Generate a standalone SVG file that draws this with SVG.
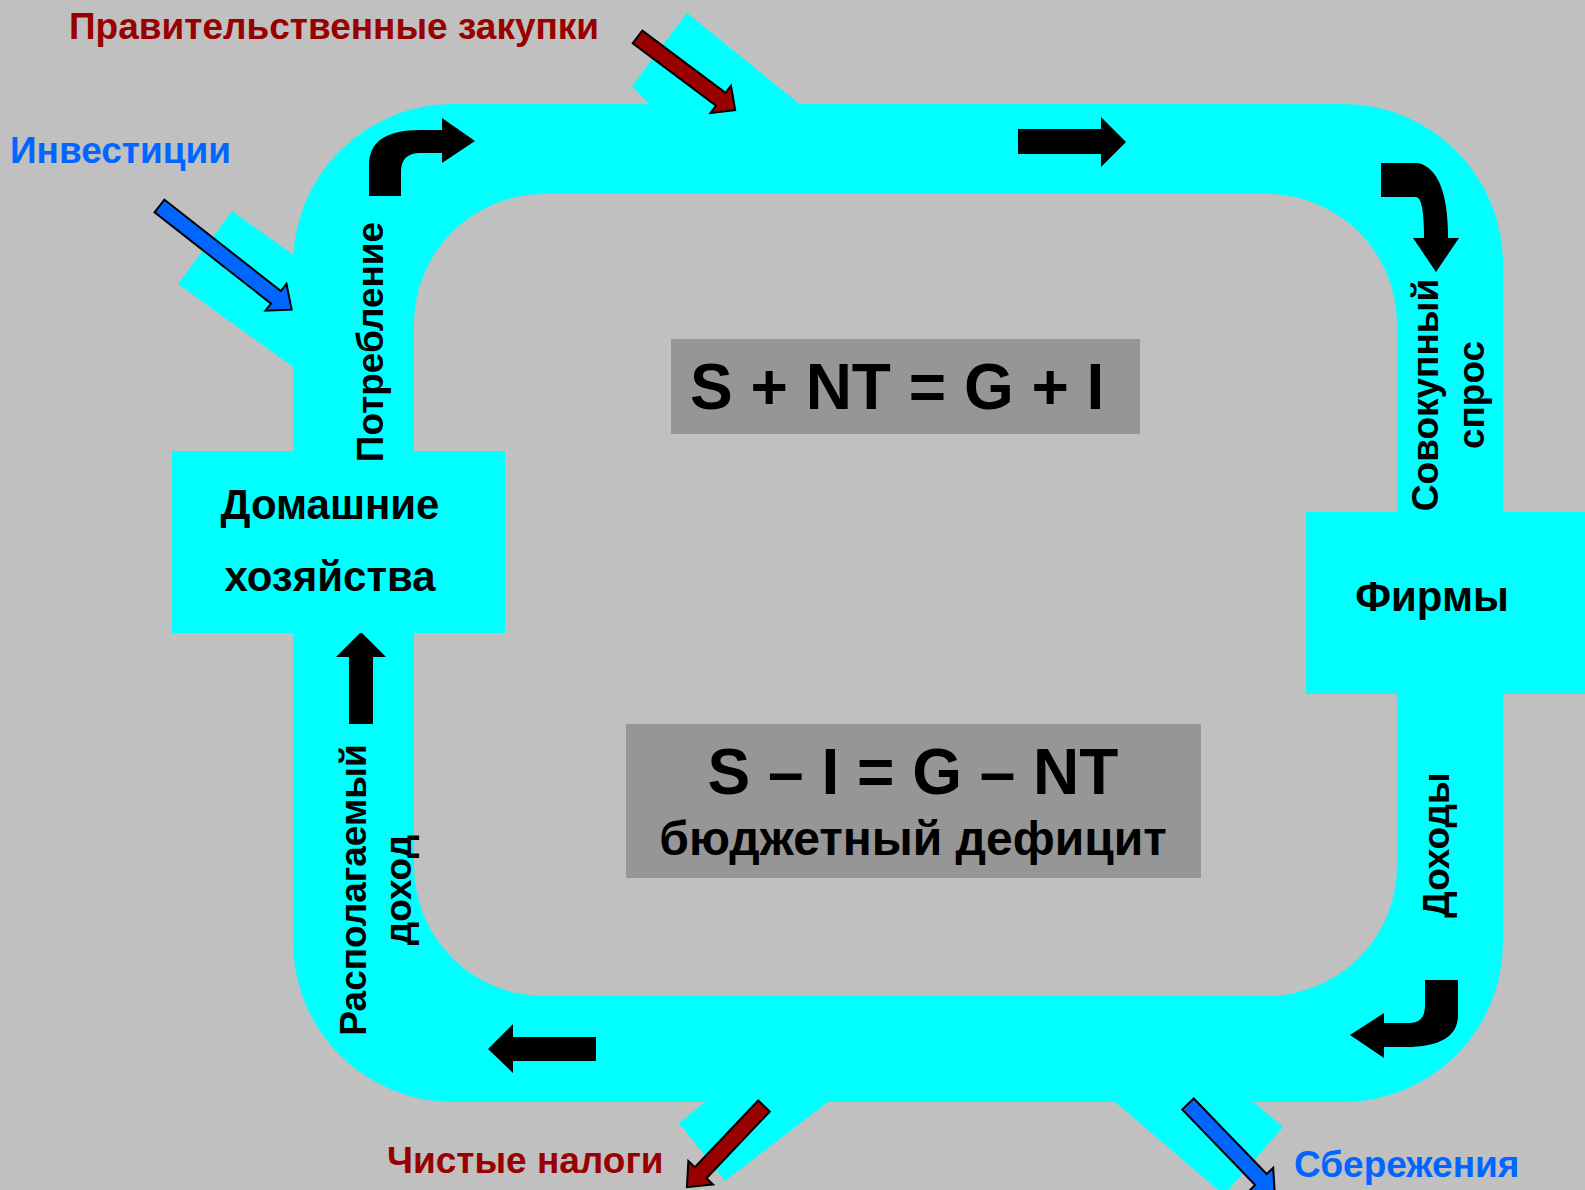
<svg xmlns="http://www.w3.org/2000/svg" width="1585" height="1190" viewBox="0 0 1585 1190">
<style>
text{font-family:"Liberation Sans",Arial,sans-serif;font-weight:bold;}
.lbl{font-size:37px;fill:#000;}
.big{font-size:42px;fill:#000;}
.red{font-size:37px;fill:#990000;}
.blue{font-size:37px;fill:#0066FF;}
.cy{fill:#00FFFF;}
.blk{fill:#000;}
.box{fill:#969696;}
.fa{stroke:#000;stroke-width:2;stroke-linejoin:miter;}
</style>
<rect x="0" y="0" width="1585" height="1190" fill="#C0C0C0"/>
<g id="connectors">
  <path class="cy" fill-rule="evenodd" d="M453,104 H1343 A160,160 0 0 1 1503,264 V942 A160,160 0 0 1 1343,1102 H453 A160,160 0 0 1 293,942 V264 A160,160 0 0 1 453,104 Z M544,194 H1267 A130,130 0 0 1 1397,324 V866 A130,130 0 0 1 1267,996 H544 A130,130 0 0 1 414,866 V324 A130,130 0 0 1 544,194 Z"/>
  <polygon class="cy" points="655,110 632,86 687,13 807,110"/>
  <polygon class="cy" points="232,211 320,274 320,367 293,367 178,284"/>
  <polygon class="cy" points="714,1095 679,1123 725,1181 837,1095"/>
  <polygon class="cy" points="1107,1095 1245,1095 1283,1127 1224,1195"/>
  <path class="blk" d="M369,196 L369,165 Q369,130 420,130 L442,130 L442,118 L475,141 L442,163 L442,153 L420,153 Q401,153 401,172 L401,196 Z"/>
  <polygon class="blk" points="1018,129 1101,129 1101,117 1126,142 1101,167 1101,154 1018,154"/>
  <path class="blk" d="M1381,163 L1418,163 Q1448,170 1448,238 L1459,238 L1436,272 L1413,238 L1424,238 Q1424,197 1416,197 L1381,197 Z"/>
  <path class="blk" d="M1425,980 L1458,980 L1458,1015 Q1458,1047 1405,1047 L1384,1047 L1384,1058 L1350,1035 L1384,1013 L1384,1023 L1410,1023 Q1425,1023 1425,1005 Z"/>
  <polygon class="blk" points="596,1037 513,1037 513,1024 488,1049 513,1073 513,1061 596,1061"/>
  <polygon class="blk" points="349,724 349,657 336,657 361,632 386,657 373,657 373,724"/>
  <g transform="translate(637.5,37) rotate(36.8)"><polygon class="fa" fill="#990000" points="0,-8 104,-8 104,-17 122,0 104,17 104,8 0,8"/></g>
  <g transform="translate(159.5,206) rotate(38.1)"><polygon class="fa" fill="#0066FF" points="0,-8 148,-8 148,-17 168,0 148,17 148,8 0,8"/></g>
  <g transform="translate(764,1106) rotate(133.5)"><polygon class="fa" fill="#990000" points="0,-8 92,-8 92,-17 112,0 92,17 92,8 0,8"/></g>
  <g transform="translate(1188,1104) rotate(46)"><polygon class="fa" fill="#0066FF" points="0,-8 105,-8 105,-17 125,0 105,17 105,8 0,8"/></g>
</g>
<g id="households">
  <rect class="cy" x="172" y="451" width="333" height="182"/>
  <text class="big" x="330" y="519" text-anchor="middle">Домашние</text>
  <text class="big" x="330" y="591" text-anchor="middle">хозяйства</text>
</g>
<g id="firms">
  <rect class="cy" x="1306" y="512" width="279" height="182"/>
  <text class="big" x="1432" y="611" text-anchor="middle">Фирмы</text>
</g>
<g id="formula1">
  <rect class="box" x="671" y="339" width="469" height="95"/>
  <text x="690" y="409" font-size="64">S + NT = G + I</text>
</g>
<g id="formula2">
  <rect class="box" x="626" y="724" width="575" height="154"/>
  <text x="913" y="794" font-size="64" text-anchor="middle">S – I = G – NT</text>
  <text x="913" y="855" font-size="48" text-anchor="middle">бюджетный дефицит</text>
</g>
<g id="labels">
  <text class="red" x="69" y="39">Правительственные закупки</text>
  <text class="blue" x="10" y="163">Инвестиции</text>
  <text class="red" x="387" y="1173">Чистые налоги</text>
  <text class="blue" x="1294" y="1177">Сбережения</text>
  <text class="lbl" transform="translate(383,342) rotate(-90)" text-anchor="middle">Потребление</text>
  <text class="lbl" transform="translate(1438,395) rotate(-90)" text-anchor="middle">Совокупный</text>
  <text class="lbl" transform="translate(1484,395) rotate(-90)" text-anchor="middle">спрос</text>
  <text class="lbl" transform="translate(1449,845) rotate(-90)" text-anchor="middle">Доходы</text>
  <text class="lbl" transform="translate(366,890) rotate(-90)" text-anchor="middle">Располагаемый</text>
  <text class="lbl" transform="translate(411,890) rotate(-90)" text-anchor="middle">доход</text>
</g>
</svg>
